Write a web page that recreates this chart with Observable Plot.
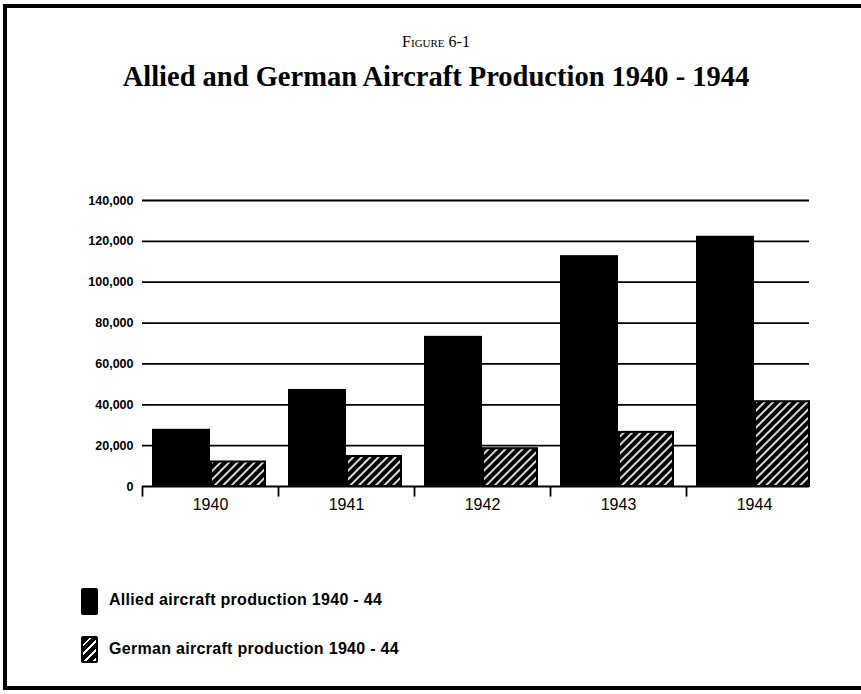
<!DOCTYPE html>
<html>
<head>
<meta charset="utf-8">
<script src="https://cdn.jsdelivr.net/npm/d3@7"></script>
<script src="https://cdn.jsdelivr.net/npm/@observablehq/plot@0.6"></script>
<style>
  html, body { margin: 0; padding: 0; background: #fff; width: 861px; height: 694px; overflow: hidden; position: relative; }
  #frame { position: absolute; left: 3px; top: 4px; width: 900px; height: 686px; box-sizing: border-box;
           border: 4px solid #000; }
  #fig { position: absolute; left: 0; width: 872px; text-align: center; top: 33px; font-family: "Liberation Serif", serif;
         font-size: 16px; font-variant: small-caps; color: #000; }
  #title { position: absolute; left: 0; width: 872px; text-align: center; top: 61px; font-family: "Liberation Serif", serif;
           font-weight: bold; font-size: 28.5px; color: #000; }
  #chart { position: absolute; left: 0; top: 0; }
  .leg { position: absolute; left: 81px; width: 17px; height: 27px; border-radius: 2px; background: #000; }
  .leg.h { background: repeating-linear-gradient(135deg, #000 0 4.4px, #fff 4.4px 6.2px); border: 2px solid #000; box-sizing: border-box; }
  .legt { position: absolute; left: 109px; font-family: "Liberation Sans", Arial, sans-serif; font-size: 16px; font-weight: bold; letter-spacing: 0.3px; color: #000; }
</style>
</head>
<body>
<div id="frame"></div>
<div id="fig">Figure 6-1</div>
<div id="title">Allied and German Aircraft Production 1940 - 1944</div>
<div id="chart"></div>
<div class="leg" style="top:588px"></div>
<div class="legt" style="top:591px">Allied aircraft production 1940 - 44</div>
<div class="leg h" style="top:636px"></div>
<div class="legt" style="top:640px">German aircraft production 1940 - 44</div>
<script>
const years = [1940, 1941, 1942, 1943, 1944];
const allied = [28000, 47500, 73500, 113000, 122500];
const german = [12000, 14700, 18500, 26500, 41500];
const yTicks = [0, 20000, 40000, 60000, 80000, 100000, 120000, 140000];

const alliedData = years.map((y, i) => ({year: y, value: allied[i]}));
const germanData = years.map((y, i) => ({year: y, value: german[i]}));

const band = 136;
const hatchDefs = () => {
  const ns = "http://www.w3.org/2000/svg";
  const defs = document.createElementNS(ns, "defs");
  const p = document.createElementNS(ns, "pattern");
  p.setAttribute("id", "hatch");
  p.setAttribute("patternUnits", "userSpaceOnUse");
  p.setAttribute("width", "6");
  p.setAttribute("height", "6");
  p.setAttribute("patternTransform", "rotate(45)");
  const r = document.createElementNS(ns, "rect");
  r.setAttribute("width", "6"); r.setAttribute("height", "6"); r.setAttribute("fill", "#000");
  const l = document.createElementNS(ns, "line");
  l.setAttribute("x1", "3"); l.setAttribute("x2", "3"); l.setAttribute("y1", "-1"); l.setAttribute("y2", "7");
  l.setAttribute("stroke", "#fff"); l.setAttribute("stroke-width", "1.7");
  p.appendChild(r); p.appendChild(l); defs.appendChild(p);
  return defs;
};

const chart = Plot.plot({
  width: 861,
  height: 520,
  marginTop: 200,
  marginBottom: 34,
  marginLeft: 142,
  marginRight: 52,
  style: {fontFamily: "'Liberation Sans', Arial, sans-serif", color: "#000", background: "transparent", overflow: "visible"},
  x: {type: "band", domain: years, range: [142, 142 + band * 5], padding: 0, round: false},
  y: {domain: [0, 140000], range: [486, 200]},
  marks: [
    hatchDefs,
    Plot.ruleY(yTicks.filter(d => d > 0), {stroke: "#000", strokeWidth: 1.8}),
    Plot.barY(alliedData, {x: "year", y: "value", fill: "#000", insetLeft: 10, insetRight: band - 68}),
    Plot.barY(germanData, {x: "year", y: "value", fill: "url(#hatch)", stroke: "#000", strokeWidth: 2, insetLeft: 69, insetRight: band - 123}),
    Plot.ruleY([0], {stroke: "#000", strokeWidth: 2.2}),
    Plot.ruleX(years, {x: d => d, y1: 0, y2: -5200, dx: -band / 2, stroke: "#000", strokeWidth: 1.8}),
    Plot.axisY(yTicks, {tickSize: 0, tickPadding: 9, tickFormat: d3.format(","), fontSize: 12.5, fontWeight: "bold", label: null}),
    Plot.axisX(years, {tickSize: 0, tickPadding: 12, tickFormat: d => String(d), fontSize: 16, label: null})
  ]
});
document.getElementById("chart").appendChild(chart);
</script>
</body>
</html>
